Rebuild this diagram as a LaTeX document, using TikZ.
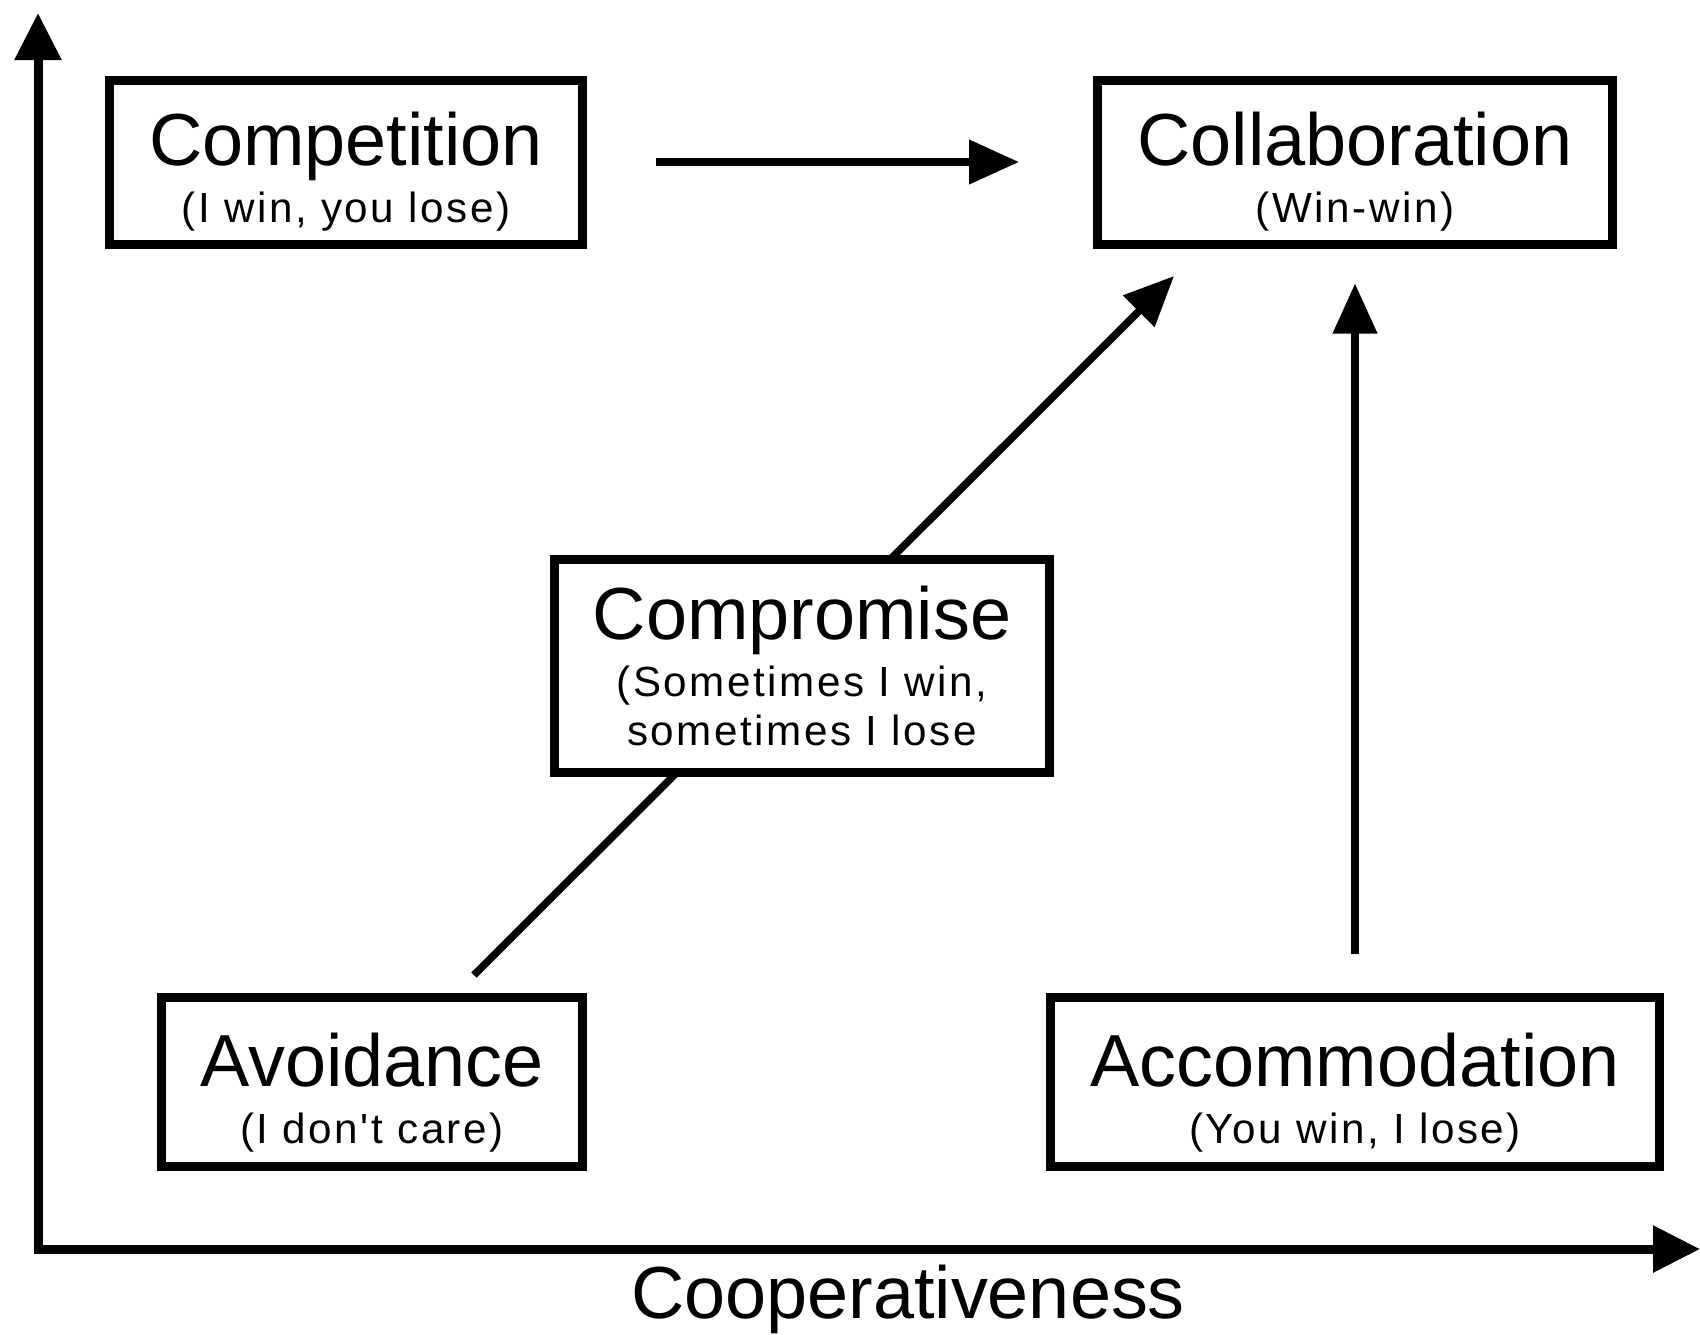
\documentclass[tikz,border=0pt]{standalone}
\usepackage{fontspec}
\setmainfont{Liberation Sans}
\newfontfamily\subfont[LetterSpace=6]{Liberation Sans}
\usepackage{tikz}
\usetikzlibrary{arrows.meta}

\newcommand{\boxtitle}[2][21.2pt]{{\fontsize{21}{16.3}\selectfont\rule{0pt}{#1}#2}}
\newcommand{\boxsub}[1]{{\subfont\fontsize{12}{16.3}\selectfont #1}}

\tikzset{
  stylebox/.style={draw, line width=0.9mm, fill=white, inner sep=0pt, align=center,
    font=\fontsize{12}{16.3}\selectfont},
  axisline/.style={line width=0.9mm, line join=miter,
    {Triangle[length=4.7mm, width=4.5mm]}-{Triangle[length=4.7mm, width=4.5mm]}},
  conn/.style={line width=0.75mm},
  arr/.style={line width=0.75mm, -{Triangle[length=5mm, width=4.3mm]}}
}

\begin{document}
\begin{tikzpicture}[x=0.1mm, y=-0.1mm]
\useasboundingbox (0,0) rectangle (1700,1334);

% axes
\coordinate (ytip) at (38,13);
\coordinate (origin) at (38,1249);
\coordinate (xtip) at (1700,1249);
\draw[axisline] (ytip) -- (origin) -- (xtip);
\node (coop) at (908,1299) {{\fontsize{21}{16.3}\selectfont Cooperativeness}};

% diagonal, passes behind the compromise box
\coordinate (lowend) at (474,975);
\coordinate (highend) at (1174,276);
\draw[arr] (lowend) -- (highend);

% boxes
\node[stylebox, minimum width=47.3mm, minimum height=16.4mm] (compet) at (346,162)
  {\boxtitle[20.5pt]{Competition}\\\boxsub{(I win, you lose)}};
\node[stylebox, minimum width=51.5mm, minimum height=16.4mm] (collab) at (1355,162)
  {\boxtitle[20.5pt]{Collaboration}\\\boxsub{(Win-win)}};
\node[stylebox, minimum width=49.5mm, minimum height=21.3mm] (comp) at (802,666)
  {\boxtitle[0pt]{Compromise}\\\boxsub{(Sometimes I win,}\\[-2.2pt]\boxsub{sometimes I lose}};
\node[stylebox, minimum width=42.1mm, minimum height=16.9mm] (avoid) at (372,1082)
  {\boxtitle{Avoidance}\\\boxsub{(I don't care)}};
\node[stylebox, minimum width=60.9mm, minimum height=16.9mm] (accom) at (1355,1082)
  {\boxtitle{Accommodation}\\\boxsub{(You win, I lose)}};

% arrows
\draw[arr, shorten <=6.9mm, shorten >=7.4mm] (compet.east) -- (collab.west);
\draw[arr, shorten <=3.9mm, shorten >=3.5mm] (accom.north) -- (collab.south);
\end{tikzpicture}
\end{document}
